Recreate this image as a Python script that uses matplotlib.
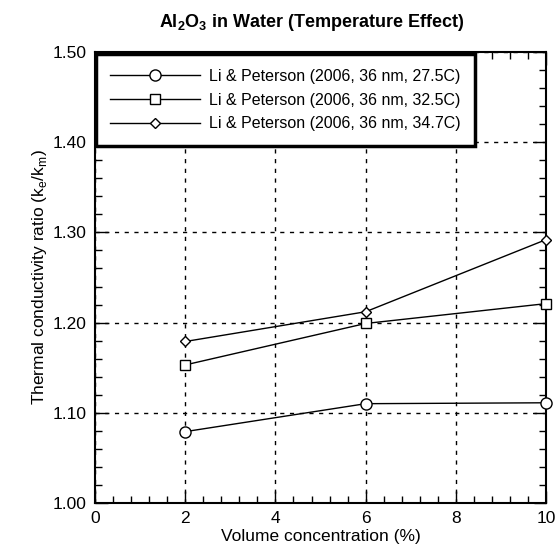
import matplotlib.pyplot as plt

plt.rcParams['font.family'] = ['Liberation Sans', 'DejaVu Sans']
plt.rcParams['mathtext.fontset'] = 'custom'
plt.rcParams['mathtext.rm'] = 'Liberation Sans'
plt.rcParams['mathtext.bf'] = 'Liberation Sans:bold'

# data
conc = [2, 6, 10]
t275 = [1.079, 1.110, 1.111]
t325 = [1.153, 1.199, 1.221]
t347 = [1.179, 1.212, 1.292]
labels = ["Li & Peterson (2006, 36 nm, 27.5C)",
          "Li & Peterson (2006, 36 nm, 32.5C)",
          "Li & Peterson (2006, 36 nm, 34.7C)"]

fig = plt.figure(figsize=(5.56, 5.55), dpi=100)
ax = fig.add_axes([0.171, 0.094, 0.811, 0.812])

ax.plot(conc, t275, '-o', color='black', lw=1, ms=8, mfc='white', mew=1, label=labels[0], clip_on=False, zorder=3)
ax.plot(conc, t325, '-s', color='black', lw=1, ms=7.5, mfc='white', mew=1, label=labels[1], clip_on=False, zorder=3)
ax.plot(conc, t347, '-D', color='black', lw=1, ms=5.5, mfc='white', mew=1, label=labels[2], clip_on=False, zorder=3)

ax.set_xlim(0, 10)
ax.set_ylim(1.0, 1.5)
ax.set_xticks([0, 2, 4, 6, 8, 10])
ax.set_yticks([1.0, 1.1, 1.2, 1.3, 1.4, 1.5])
ax.set_yticklabels(["1.00", "1.10", "1.20", "1.30", "1.40", "1.50"])
ax.set_xticks([i * 0.4 for i in range(26)], minor=True)
ax.set_yticks([1.0 + i * 0.02 for i in range(26)], minor=True)
ax.tick_params(which='both', direction='in', top=True, right=True, labelsize=12.5, width=1)
ax.tick_params(which='major', length=9, pad=6)
ax.tick_params(which='minor', length=5)
ax.grid(True, which='major', color='black', linestyle=(0, (3, 4)), linewidth=1)
for s in ax.spines.values():
    s.set_linewidth(1.5)

ax.set_xlabel("Volume concentration (%)", fontsize=12.5, labelpad=2)
ax.set_ylabel(r"Thermal conductivity ratio (k$_\mathregular{e}$/k$_\mathregular{m}$)", fontsize=12.5, labelpad=3)
ax.set_title(r"Al$_\mathbf{2}$O$_\mathbf{3}$ in Water (Temperature Effect)", fontsize=13, fontweight='bold',
             pad=18, x=0.48)

leg = ax.legend(loc='upper left', bbox_to_anchor=(0.002, 0.995), fontsize=11.5, frameon=True, fancybox=False,
                handlelength=5.6, handletextpad=0.6, borderpad=0.9, labelspacing=0.55, borderaxespad=0)
leg.get_frame().set_edgecolor('black')
leg.get_frame().set_linewidth(2.5)
leg.get_frame().set_alpha(1)

fig.savefig("out.png", dpi=100)
